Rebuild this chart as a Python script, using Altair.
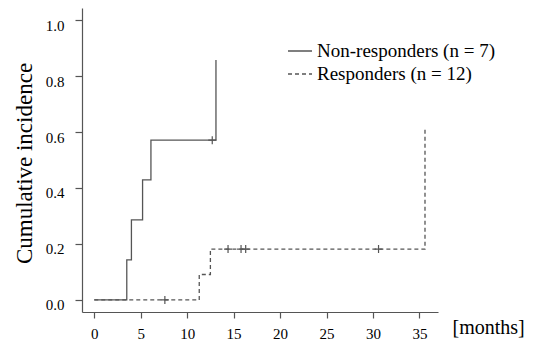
import altair as alt
import pandas as pd

# Step curves (time in months, cumulative incidence)
nr_label = "Non-responders (n = 7)"
r_label = "Responders (n = 12)"
nr_time = [0, 3.5, 4.0, 5.2, 6.1, 13.1]
nr_cuminc = [0, 0.143, 0.286, 0.429, 0.571, 0.857]
r_time = [0, 11.3, 12.5, 35.6]
r_cuminc = [0, 0.0909, 0.1818, 0.618]

# Censoring marks
nr_cens_time = [12.7]
nr_cens_val = [0.571]
r_cens_time = [7.6, 14.4, 15.8, 16.3, 30.6]
r_cens_val = [0, 0.1818, 0.1818, 0.1818, 0.1818]

x_ticks = [0, 5, 10, 15, 20, 25, 30, 35]
y_ticks = [0.0, 0.2, 0.4, 0.6, 0.8, 1.0]

curves = pd.DataFrame({
    "time": nr_time + r_time,
    "ci": nr_cuminc + r_cuminc,
    "group": [nr_label] * len(nr_time) + [r_label] * len(r_time),
})
cens = pd.DataFrame({
    "time": nr_cens_time + r_cens_time,
    "ci": nr_cens_val + r_cens_val,
})

FONT = "Liberation Serif"
GREY = "#555555"

xs = alt.Scale(domain=[-1.32, 37.0], nice=False, zero=False)
ys = alt.Scale(domain=[-0.043, 1.043], nice=False, zero=False)

common = dict(grid=False, domainColor=GREY, tickColor=GREY, labelColor="black",
              labelFont=FONT, domainWidth=1.2, tickWidth=1.2, labelFontSize=15,
              titleFont=FONT, titleFontWeight="normal", titleColor="black")

x_axis = alt.Axis(values=x_ticks, format="d", title="[months]",
                  titleFontSize=20, titleX=370, titleY=15, titleAlign="left",
                  titleBaseline="middle", titleAnchor="start",
                  labelPadding=8, tickSize=6, **common)
y_axis = alt.Axis(values=y_ticks, format=".1f", title="Cumulative incidence",
                  titleFontSize=23, titleX=-58, titleY=155, titleAlign="center",
                  titleBaseline="middle", titleAngle=270,
                  labelPadding=11, labelOffset=5,
                  labelBaseline="middle", tickSize=7, **common)

lines = alt.Chart(curves).mark_line(interpolate="step-after", strokeWidth=1.3,
                                    color=GREY).encode(
    x=alt.X("time:Q", scale=xs, axis=x_axis),
    y=alt.Y("ci:Q", scale=ys, axis=y_axis),
    strokeDash=alt.StrokeDash(
        "group:N",
        scale=alt.Scale(domain=[nr_label, r_label], range=[[1, 0], [4, 3]]),
        legend=alt.Legend(title=None, orient="none", legendX=205, legendY=30,
                          symbolType="stroke", symbolSize=576,
                          symbolStrokeColor=GREY, symbolStrokeWidth=1.3,
                          labelFont=FONT, labelFontSize=19, labelColor="black",
                          labelOffset=4, rowPadding=-2, labelLimit=400),
    ),
)

plus = alt.Chart(cens).mark_point(shape="M-1,0L1,0M0,-1L0,1", filled=False,
                                  size=64, strokeWidth=1.2, color=GREY,
                                  opacity=1).encode(
    x=alt.X("time:Q", scale=xs, axis=x_axis),
    y=alt.Y("ci:Q", scale=ys, axis=y_axis),
)

chart = alt.layer(lines, plus).properties(
    width=356, height=304,
    background="white",
    autosize=alt.AutoSizeParams(type="none"),
    padding={"left": 74, "top": 0, "right": 88, "bottom": 30},
).configure_view(stroke=None).configure_axis(
    labelFont=FONT, titleFont=FONT, labelFontSize=15
)

chart.save("out.html", embed_options={"renderer": "svg", "actions": False})
